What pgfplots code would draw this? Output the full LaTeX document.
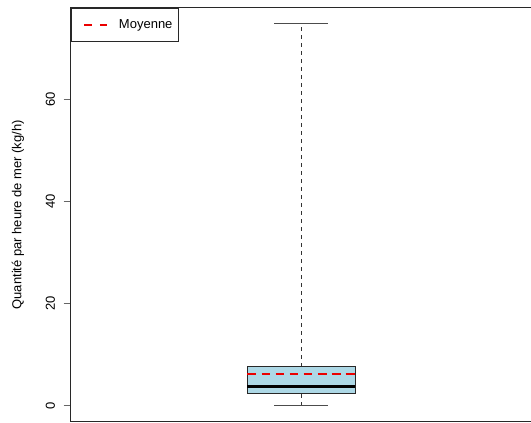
\documentclass[border=0pt]{standalone}
\usepackage{pgfplots}
\pgfplotsset{compat=1.18}
\usepackage{fontspec}
\setmainfont{Liberation Sans}
\definecolor{boxblue}{RGB}{173,216,230}
\definecolor{framegray}{RGB}{40,40,40}
\definecolor{meanred}{RGB}{235,0,0}
\begin{document}
\fontsize{13}{15}\selectfont
\begin{tikzpicture}
\begin{axis}[
  at={(71pt,1.5pt)}, anchor=south west,
  scale only axis,
  width=462pt, height=413.5pt,
  xmin=0.4576, xmax=1.545,
  ymin=-3.1, ymax=78,
  xtick=\empty,
  ytick={0,20,40,60},
  tick align=outside,
  major tick length=7.5pt,
  axis line style={line width=1pt, framegray},
  every tick/.style={line width=0.8pt, gray!80!black},
  /pgf/number format/assume math mode=true,
  yticklabel shift=4pt,
  yticklabel style={rotate=90, anchor=south, font=\fontsize{13}{15}\selectfont},
  every axis y label/.style={at={([xshift=-53pt]axis description cs:0,0.5)}, rotate=90, anchor=center, font=\fontsize{13}{15}\selectfont},
  ylabel={Quantité par heure de mer (kg/h)},
  unbounded coords=jump,
  legend style={at={(0,1)}, anchor=north west, draw=framegray, line width=1pt,
    inner xsep=12pt, inner ysep=9pt, font=\fontsize{13}{15}\selectfont},
  legend cell align=left,
  legend image code/.code={\draw[meanred, line width=2pt] (0pt,0pt) -- (8pt,0pt); \draw[meanred, line width=2pt] (15.5pt,0pt) -- (23pt,0pt);},
]
% whiskers
\addplot[black!80, line width=0.8pt, dash pattern=on 4pt off 4pt, forget plot] coordinates {(1,0) (1,2.35)};
\addplot[black!80, line width=0.8pt, dash pattern=on 4pt off 4pt, forget plot] coordinates {(1,7.6) (1,75)};
% whisker caps
\addplot[line width=0.9pt, black!70, forget plot] coordinates {(0.9365,0) (1.0635,0)};
\addplot[line width=0.9pt, black!70, forget plot] coordinates {(0.9365,75) (1.0635,75)};
% box
\addplot[fill=boxblue, draw=framegray, line width=0.9pt, forget plot] coordinates {(0.873,2.35) (1.127,2.35) (1.127,7.6) (0.873,7.6) (0.873,2.35)};
% median
\addplot[black, line width=2.6pt, forget plot] coordinates {(0.873,3.8) (1.127,3.8)};
% mean (dashed line, drawn as segments)
\addplot[meanred, line width=2pt] coordinates {
  (0.873,6.3) (0.894,6.3) (0.9,nan)
  (0.906,6.3) (0.927,6.3) (0.93,nan)
  (0.939,6.3) (0.960,6.3) (0.965,nan)
  (0.972,6.3) (0.993,6.3) (0.998,nan)
  (1.005,6.3) (1.026,6.3) (1.03,nan)
  (1.038,6.3) (1.059,6.3) (1.065,nan)
  (1.071,6.3) (1.092,6.3) (1.098,nan)
  (1.104,6.3) (1.125,6.3)};
\addlegendentry{\makebox[53.5pt][l]{\hspace{8.5pt}Moyenne}}
\end{axis}
\pgfresetboundingbox
\useasboundingbox (0,0) rectangle (531pt,423pt);
\end{tikzpicture}
\end{document}
